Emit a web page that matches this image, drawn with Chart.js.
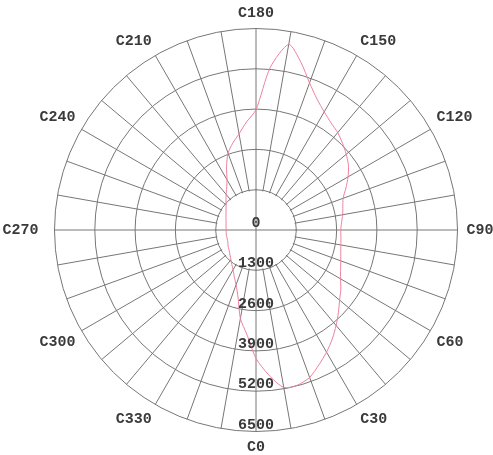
<!DOCTYPE html>
<html><head><meta charset="utf-8">
<script src="https://cdn.jsdelivr.net/npm/chart.js@4/dist/chart.umd.min.js"></script>
<style>html,body{margin:0;padding:0;background:#fff;overflow:hidden}#wrap{position:relative;width:493px;height:455px;overflow:hidden}#c{position:absolute;left:-7px;top:0}</style>
</head><body><div id="wrap"><canvas id="c" width="510" height="455"></canvas></div>
<script>
// C-plane angles (degrees) and luminous intensity
const cPlanes = [0,5,10,15,20,25,30,35,40,45,50,55,60,65,70,75,80,85,90,95,100,105,110,115,120,125,130,135,140,145,150,155,160,165,170,175,180,185,190,195,200,205,210,215,220,225,230,235,240,245,250,255,260,265,270,275,280,285,290,295,300,305,310,315,320,325,330,335,340,345,350,355];
const intensity = [4140,4690,5160,5180,5060,4800,4550,4290,4020,3760,3520,3340,3150,3010,2910,2830,2780,2750,2735,2770,2840,2900,2990,3200,3430,3640,3800,3950,4100,4220,4400,4660,5050,5600,6080,5260,3880,3500,3150,2900,2637,2250,1870,1650,1500,1370,1260,1180,1115,1070,1030,1000,980,970,965,965,970,970,975,1000,1040,1070,1115,1180,1256,1360,1480,1660,1880,2240,2900,3380];
const radialTicks = [0,1300,2600,3900,5200,6500];
const labeledPlanes = [0,30,60,90,120,150,180,210,240,270,300,330];

const gridColor = '#767676';
const textColor = '#3a3a3a';
const fontFamily = '"Liberation Mono", "DejaVu Sans Mono", monospace';
// Chart.js radar goes clockwise from the top; the diagram has C180 at top, C90 on the right
const order = cPlanes.map(c => (540 - c) % 360);
const labels = order.map(c => 'C' + c);
const values = order.map(c => intensity[cPlanes.indexOf(c)]);

const innerDisk = {
  id: 'innerDisk',
  beforeDatasetsDraw(chart) {
    const s = chart.scales.r, ctx = chart.ctx;
    const rr = s.getDistanceFromCenterForValue(radialTicks[1]);
    ctx.save();
    ctx.beginPath();
    ctx.arc(s.xCenter, s.yCenter, rr - 1, 0, Math.PI * 2);
    ctx.fillStyle = '#fff';
    ctx.fill();
    ctx.strokeStyle = gridColor;
    ctx.lineWidth = 1;
    ctx.beginPath();
    ctx.moveTo(s.xCenter - rr, s.yCenter); ctx.lineTo(s.xCenter + rr, s.yCenter);
    ctx.moveTo(s.xCenter, s.yCenter - rr); ctx.lineTo(s.xCenter, s.yCenter + rr);
    ctx.stroke();
    ctx.restore();
  },
  afterDatasetsDraw(chart) {
    const s = chart.scales.r, ctx = chart.ctx;
    ctx.save();
    ctx.font = 'bold 15px ' + fontFamily;
    ctx.fillStyle = textColor;
    ctx.textAlign = 'center';
    ctx.textBaseline = 'alphabetic';
    radialTicks.forEach(v => {
      const d = s.getDistanceFromCenterForValue(v);
      ctx.fillText(String(v), s.xCenter, s.yCenter + d - 3);
    });
    ctx.restore();
  }
};

new Chart(document.getElementById('c'), {
  type: 'radar',
  data: {
    labels: labels,
    datasets: [{
      data: values,
      borderColor: 'rgb(238,128,156)',
      borderWidth: 1,
      fill: false,
      pointRadius: 0,
      tension: 0.25
    }]
  },
  options: {
    responsive: false,
    animation: false,
    devicePixelRatio: 1,
    layout: {padding: {left: 0, right: 0, top: 5, bottom: 0}},
    plugins: {legend: {display: false}, tooltip: {enabled: false}},
    scales: {
      r: {
        min: 0,
        max: 6500,
        ticks: {display: false, stepSize: 1300},
        grid: {circular: true, color: gridColor, lineWidth: 1},
        angleLines: {color: gridColor, lineWidth: ctx => (ctx.index % 2 === 0 ? 1 : 0)},
        pointLabels: {
          font: {family: fontFamily, size: 15, weight: 'bold', lineHeight: 1.1},
          color: textColor,
          padding: ctx => {
            const c = order[ctx.index];
            return c === 270 ? 16 : (c === 90 ? 9 : 7);
          },
          callback: (label) => labeledPlanes.includes(Number(label.slice(1))) ? label : ''
        }
      }
    }
  },
  plugins: [innerDisk]
});
</script>
</body></html>
